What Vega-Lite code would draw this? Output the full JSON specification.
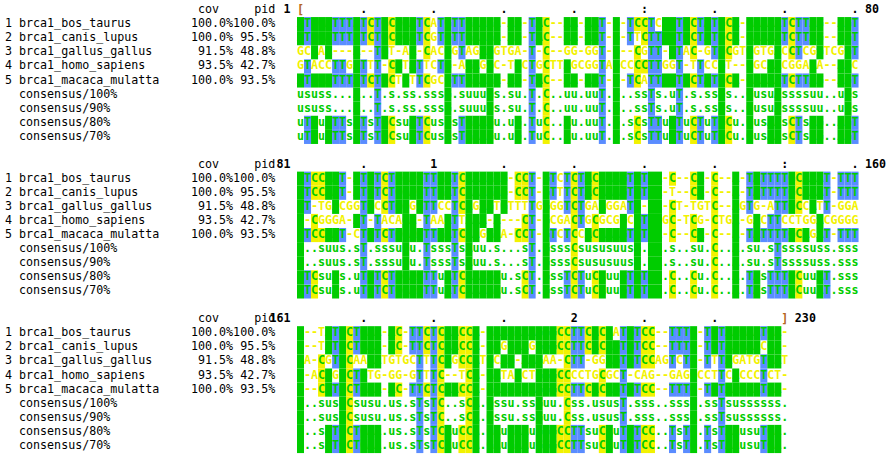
{
  "$schema": "https://vega.github.io/schema/vega-lite/v6.json",
  "width": 894,
  "height": 470,
  "autosize": "none",
  "padding": 0,
  "background": "white",
  "config": {"view": {"stroke": null}, "text": {"font": "DejaVu Sans Mono", "fontSize": 11.66}},
  "datasets": {
    "lines": [
      {"block": 0, "row": 1, "kind": "seq", "num": "1", "name": "brca1_bos_taurus", "cov": "100.0%", "pid": "100.0%", "seq": "ATGGATTTATCTGCGGATCATGTTGAAGA-AG-TAC--AA-AAT-G-TCCTCAATGCTATGCA-GAAAATCTTAG--AGT"},
      {"block": 0, "row": 2, "kind": "seq", "num": "2", "name": "brca1_canis_lupus", "cov": "100.0%", "pid": "95.5%", "seq": "ATGGATTTATCTGCGGATCGTGTTGAAGA-AG-TAC--AA-AAT-G-TTCTTAATGCTATGCA-GAAAATCTTAG--AGT"},
      {"block": 0, "row": 3, "kind": "seq", "num": "3", "name": "brca1_gallus_gallus", "cov": "91.5%", "pid": "48.8%", "seq": "GCGAA---A--TGT-AA-CACGGTAGAGGTGA-T-C--GG-GGT-G--CGTT-ATAC-GTGCGTGGTGACCTCGGTCGGT"},
      {"block": 0, "row": 4, "kind": "seq", "num": "4", "name": "brca1_homo_sapiens", "cov": "93.5%", "pid": "42.7%", "seq": "GTACCTTGATTT-CGTATTCTG-AGAGGC-TGCTGCTTAGCGGTAGCCCCTTGGT-TTCCGT--GGCAACGGAAA--AGC"},
      {"block": 0, "row": 5, "kind": "seq", "num": "5", "name": "brca1_macaca_mulatta", "cov": "100.0%", "pid": "93.5%", "seq": "ATGGATTTATCTGCTGTTCGCGTTGAAGA-AG-TAC--AA-AAT-G-TCATTAATGCTATGCA-GAAAATCTTAG--AGT"},
      {"block": 0, "row": 6, "kind": "cons", "num": "", "name": "consensus/100%", "cov": "", "pid": "", "seq": "ususs...A..T.s.ss.sssG.suuuGs.su.T.C..uu.uuT.G..ssTs.uT.s.ssGs..GusuAssssuu..uGs"},
      {"block": 0, "row": 7, "kind": "cons", "num": "", "name": "consensus/90%", "cov": "", "pid": "", "seq": "ususs...A..T.s.ss.sssG.suuuGs.su.T.C..uu.uuT.G..ssTs.uT.s.ssGs..GusuAssssuu..uGs"},
      {"block": 0, "row": 8, "kind": "cons", "num": "", "name": "consensus/80%", "cov": "", "pid": "", "seq": "uTGuATTsATsTGCsuATCusGsTGAAGu.uG.TuC..Au.uuT.G.sCsTTuATuCTuTGCu.GusAAsCTsAG..AGT"},
      {"block": 0, "row": 9, "kind": "cons", "num": "", "name": "consensus/70%", "cov": "", "pid": "", "seq": "uTGuATTsATsTGCsuATCusGsTGAAGu.uG.TuC..Au.uuT.G.sCsTTuATuCTuTGCu.GusAAsCTsAG..AGT"},
      {"block": 1, "row": 1, "kind": "seq", "num": "1", "name": "brca1_bos_taurus", "cov": "100.0%", "pid": "100.0%", "seq": "GTCCAAT-ATGTCTGGAGTTGATCAAAGAG-CCT-GTCTCTACAAAGTGTGA-C--CA-C--A-TATTTTGCAAAT-TTT"},
      {"block": 1, "row": 2, "kind": "seq", "num": "2", "name": "brca1_canis_lupus", "cov": "100.0%", "pid": "95.5%", "seq": "GTCCAAT-ATGTCTGGAGTTGATCAAAGAG-CCT-GTTTCTACAAAGTGTGA-T--CA-C--A-TATTTTGCAAAT-TTT"},
      {"block": 1, "row": 3, "kind": "seq", "num": "3", "name": "brca1_gallus_gallus", "cov": "91.5%", "pid": "48.8%", "seq": "GT-TGACGGTGCCTGGGGTTCCTCAGAGTGTTTTGGGGTCTGAAGGATG-GA-CT-TGTC--AGTG-ATTGCCATT-GGA"},
      {"block": 1, "row": 4, "kind": "seq", "num": "4", "name": "brca1_homo_sapiens", "cov": "93.5%", "pid": "42.7%", "seq": "G-CGGGA-AT-TACAGA-TAAATTAAA-A---CT-GCGACTGCGCGGCGTGAGC-TCG-CTGA-GACTTCCTGGACGGGG"},
      {"block": 1, "row": 5, "kind": "seq", "num": "5", "name": "brca1_macaca_mulatta", "cov": "100.0%", "pid": "93.5%", "seq": "GTCCAAT-CTGTCTGGAGTTGATCAAGGAA-CCT-GTCTCCACAAAGTGTGA-C--CA-C--A-TATTTTGCAGAT-TTT"},
      {"block": 1, "row": 6, "kind": "cons", "num": "", "name": "consensus/100%", "cov": "", "pid": "", "seq": "G..suus.sT.sssuGu.TsssTsAuu.s...sT.GsssCsususuusG.GA.s..su.C..A.su.sTssssuss.sss"},
      {"block": 1, "row": 7, "kind": "cons", "num": "", "name": "consensus/90%", "cov": "", "pid": "", "seq": "G..suus.sT.sssuGu.TsssTsAuu.s...sT.GsssCsususuusG.GA.s..su.C..A.su.sTssssuss.sss"},
      {"block": 1, "row": 8, "kind": "cons", "num": "", "name": "consensus/80%", "cov": "", "pid": "", "seq": "GTCsuAs.uTGTCTGGAGTTuATCAAAGAu.sCT.GssTCTuCAuuGTGTGA.C..Cu.C..A.TAsTTTGCuuAT.sss"},
      {"block": 1, "row": 9, "kind": "cons", "num": "", "name": "consensus/70%", "cov": "", "pid": "", "seq": "GTCsuAs.uTGTCTGGAGTTuATCAAAGAu.sCT.GssTCTuCAuuGTGTGA.C..Cu.C..A.TAsTTTGCuuAT.sss"},
      {"block": 2, "row": 1, "kind": "seq", "num": "1", "name": "brca1_bos_taurus", "cov": "100.0%", "pid": "100.0%", "seq": "G--TATGCTGAA-AC-TTCTCAACCA-GAAGAAAGGGCCTTCACAATGTCC--TTTG-TGTAAGAATGA-"},
      {"block": 2, "row": 2, "kind": "seq", "num": "2", "name": "brca1_canis_lupus", "cov": "100.0%", "pid": "95.5%", "seq": "G--TATGCTGAA-AC-TTCTCAACCA-GAGGAAGGGGCCTTCACAGTGTCC--TTTG-TGTAAGAACGA-"},
      {"block": 2, "row": 3, "kind": "seq", "num": "3", "name": "brca1_gallus_gallus", "cov": "91.5%", "pid": "48.8%", "seq": "GA-CGTGCAAAATGTGCTTTCAGCCATGCAG-AAGAA-CTT-GGAGTGTCCAGTCTG-TTTAGATGTGAT"},
      {"block": 2, "row": 4, "kind": "seq", "num": "4", "name": "brca1_homo_sapiens", "cov": "93.5%", "pid": "42.7%", "seq": "G-ACAGGCTGTG-GG-GTTTC--TCA-GATAACTGGGCCCCTGCGCT-CAG--GAGGCCTTCACCCTCT-"},
      {"block": 2, "row": 5, "kind": "seq", "num": "5", "name": "brca1_macaca_mulatta", "cov": "100.0%", "pid": "93.5%", "seq": "G--CATGCTGAA-AC-TTCTCAACCA-GAAGAAAGGGCCTTCACAGTGTCC--TTTG-TGTAAGAATGA-"},
      {"block": 2, "row": 6, "kind": "cons", "num": "", "name": "consensus/100%", "cov": "", "pid": "", "seq": "G..susGCsusu.us.sTsTC..sCA.Gssu.ssGuu.Css.ususT.sss..sssG.ssTsussssss."},
      {"block": 2, "row": 7, "kind": "cons", "num": "", "name": "consensus/90%", "cov": "", "pid": "", "seq": "G..susGCsusu.us.sTsTC..sCA.Gssu.ssGuu.Css.ususT.sss..sssG.ssTsussssss."},
      {"block": 2, "row": 8, "kind": "cons", "num": "", "name": "consensus/80%", "cov": "", "pid": "", "seq": "G..sATGCTGAA.us.sTsTCAuCCA.GAuGAAuGGGCCTTsuCAuTGTCC..TsTG.TsTAAusuTGA."},
      {"block": 2, "row": 9, "kind": "cons", "num": "", "name": "consensus/70%", "cov": "", "pid": "", "seq": "G..sATGCTGAA.us.sTsTCAuCCA.GAuGAAuGGGCCTTsuCAuTGTCC..TsTG.TsTAAusuTGA."}
    ],
    "rulers": [
      {"block": 0, "col": 1, "m": "["}, {"block": 0, "col": 10, "m": "."}, {"block": 0, "col": 20, "m": "."}, {"block": 0, "col": 30, "m": "."}, {"block": 0, "col": 40, "m": "."}, {"block": 0, "col": 50, "m": ":"}, {"block": 0, "col": 60, "m": "."}, {"block": 0, "col": 70, "m": "."}, {"block": 0, "col": 80, "m": "."},
      {"block": 1, "col": 10, "m": "."}, {"block": 1, "col": 20, "m": "1"}, {"block": 1, "col": 30, "m": "."}, {"block": 1, "col": 40, "m": "."}, {"block": 1, "col": 50, "m": "."}, {"block": 1, "col": 60, "m": "."}, {"block": 1, "col": 70, "m": ":"}, {"block": 1, "col": 80, "m": "."},
      {"block": 2, "col": 10, "m": "."}, {"block": 2, "col": 20, "m": "."}, {"block": 2, "col": 30, "m": "."}, {"block": 2, "col": 40, "m": "2"}, {"block": 2, "col": 50, "m": "."}, {"block": 2, "col": 60, "m": "."}, {"block": 2, "col": 70, "m": "]"}
    ],
    "blocks": [
      {"block": 0, "start": "1", "end": "80", "last": 80},
      {"block": 1, "start": "81", "end": "160", "last": 80},
      {"block": 2, "start": "161", "end": "230", "last": 70}
    ]
  },
  "layer": [
    {
      "data": {"name": "lines"},
      "transform": [
        {"calculate": "split(datum.seq, '')", "as": "chars"},
        {"flatten": ["chars"], "as": ["ch"]},
        {"window": [{"op": "row_number", "as": "col"}], "groupby": ["block", "row"]},
        {"joinaggregate": [{"op": "count", "as": "n"}], "groupby": ["block", "col", "ch", "kind"]},
        {"calculate": "datum.block * 10.96 + datum.row", "as": "line"},
        {"calculate": "datum.kind == 'seq' ? (datum.ch != '-' && datum.n >= 3 ? 'hl' : 'plain') : (test(/[ACGT]/, datum.ch) ? 'hl' : 'cons')", "as": "tc"}
      ],
      "layer": [
        {
          "transform": [{"filter": "datum.tc == 'hl'"}],
          "mark": {"type": "rect", "width": 7.02, "height": 14.1},
          "encoding": {
            "x": {"field": "col", "type": "quantitative", "scale": {"domain": [-41.81, 85.55], "range": [0, 894]}, "axis": null},
            "y": {"field": "line", "type": "quantitative", "scale": {"domain": [-0.709, 32.62], "range": [0, 470]}, "axis": null},
            "color": {"field": "ch", "type": "nominal", "scale": {"domain": ["A", "C", "G", "T"], "range": ["#00cc00", "#f2f200", "#00cc00", "#5a8cff"]}, "legend": null}
          }
        },
        {
          "mark": {"type": "text", "fontWeight": "bold", "baseline": "middle"},
          "encoding": {
            "x": {"field": "col", "type": "quantitative", "scale": {"domain": [-41.81, 85.55], "range": [0, 894]}, "axis": null},
            "y": {"field": "line", "type": "quantitative", "scale": {"domain": [-0.709, 32.62], "range": [0, 470]}, "axis": null},
            "text": {"field": "ch"},
            "color": {"field": "tc", "type": "nominal", "scale": {"domain": ["hl", "plain", "cons"], "range": ["#000000", "#707070", "#2ed62e"]}, "legend": null}
          }
        }
      ]
    },
    {
      "data": {"name": "lines"},
      "transform": [{"calculate": "datum.block * 10.96 + datum.row", "as": "line"}],
      "layer": [
        {"mark": {"type": "text", "align": "left", "baseline": "middle", "color": "black"}, "encoding": {"x": {"datum": -41.1, "type": "quantitative", "scale": {"domain": [-41.81, 85.55], "range": [0, 894]}, "axis": null}, "y": {"field": "line", "type": "quantitative", "scale": {"domain": [-0.709, 32.62], "range": [0, 470]}, "axis": null}, "text": {"field": "num"}}},
        {"mark": {"type": "text", "align": "left", "baseline": "middle", "color": "black"}, "encoding": {"x": {"datum": -39.1, "type": "quantitative", "scale": {"domain": [-41.81, 85.55], "range": [0, 894]}, "axis": null}, "y": {"field": "line", "type": "quantitative", "scale": {"domain": [-0.709, 32.62], "range": [0, 470]}, "axis": null}, "text": {"field": "name"}}},
        {"mark": {"type": "text", "align": "right", "baseline": "middle", "color": "black"}, "encoding": {"x": {"datum": -8.6, "type": "quantitative", "scale": {"domain": [-41.81, 85.55], "range": [0, 894]}, "axis": null}, "y": {"field": "line", "type": "quantitative", "scale": {"domain": [-0.709, 32.62], "range": [0, 470]}, "axis": null}, "text": {"field": "cov"}}},
        {"mark": {"type": "text", "align": "right", "baseline": "middle", "color": "black"}, "encoding": {"x": {"datum": -2.6, "type": "quantitative", "scale": {"domain": [-41.81, 85.55], "range": [0, 894]}, "axis": null}, "y": {"field": "line", "type": "quantitative", "scale": {"domain": [-0.709, 32.62], "range": [0, 470]}, "axis": null}, "text": {"field": "pid"}}}
      ]
    },
    {
      "data": {"name": "rulers"},
      "transform": [{"calculate": "datum.block * 10.96", "as": "line"}],
      "mark": {"type": "text", "fontWeight": "bold", "baseline": "middle"},
      "encoding": {
        "x": {"field": "col", "type": "quantitative", "scale": {"domain": [-41.81, 85.55], "range": [0, 894]}, "axis": null},
        "y": {"field": "line", "type": "quantitative", "scale": {"domain": [-0.709, 32.62], "range": [0, 470]}, "axis": null},
        "text": {"field": "m"},
        "color": {"condition": {"test": "datum.m == '[' || datum.m == ']'", "value": "#b5651d"}, "value": "black"}
      }
    },
    {
      "data": {"name": "blocks"},
      "transform": [{"calculate": "datum.block * 10.96", "as": "line"}],
      "layer": [
        {"mark": {"type": "text", "align": "right", "baseline": "middle", "fontWeight": "bold", "dx": -10, "color": "black"}, "encoding": {"x": {"datum": 1, "type": "quantitative", "scale": {"domain": [-41.81, 85.55], "range": [0, 894]}, "axis": null}, "y": {"field": "line", "type": "quantitative", "scale": {"domain": [-0.709, 32.62], "range": [0, 470]}, "axis": null}, "text": {"field": "start"}}},
        {"mark": {"type": "text", "align": "left", "baseline": "middle", "fontWeight": "bold", "dx": 10, "color": "black"}, "encoding": {"x": {"field": "last", "type": "quantitative", "scale": {"domain": [-41.81, 85.55], "range": [0, 894]}, "axis": null}, "y": {"field": "line", "type": "quantitative", "scale": {"domain": [-0.709, 32.62], "range": [0, 470]}, "axis": null}, "text": {"field": "end"}}},
        {"mark": {"type": "text", "align": "right", "baseline": "middle", "color": "black"}, "encoding": {"x": {"datum": -10.6, "type": "quantitative", "scale": {"domain": [-41.81, 85.55], "range": [0, 894]}, "axis": null}, "y": {"field": "line", "type": "quantitative", "scale": {"domain": [-0.709, 32.62], "range": [0, 470]}, "axis": null}, "text": {"value": "cov"}}},
        {"mark": {"type": "text", "align": "right", "baseline": "middle", "color": "black"}, "encoding": {"x": {"datum": -2.6, "type": "quantitative", "scale": {"domain": [-41.81, 85.55], "range": [0, 894]}, "axis": null}, "y": {"field": "line", "type": "quantitative", "scale": {"domain": [-0.709, 32.62], "range": [0, 470]}, "axis": null}, "text": {"value": "pid"}}}
      ]
    }
  ]
}
